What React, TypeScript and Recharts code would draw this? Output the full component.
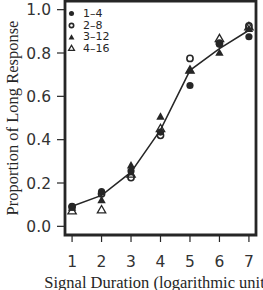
import React from 'react';
import { ComposedChart, Line, Scatter, XAxis, YAxis, Legend, ReferenceArea } from 'recharts';

// Signal duration (log units)
const durations = [1, 2, 3, 4, 5, 6, 7];
const xTicks = [1, 2, 3, 4, 5, 6, 7];
const yTicks = [0, 0.2, 0.4, 0.6, 0.8, 1.0];
const seriesLabels = ['1–4', '2–8', '3–12', '4–16'];

// fitted curve
const fitValues = [0.093, 0.143, 0.25, 0.445, 0.72, 0.82, 0.905];
// observed proportions per range
const range1to4 = [0.092, 0.16, 0.255, 0.435, 0.65, 0.84, 0.875];
const range2to8 = [0.09, 0.15, 0.225, 0.42, 0.775, 0.845, 0.925];
const range3to12 = [0.085, 0.12, 0.28, 0.505, 0.72, 0.8, 0.91];
const range4to16 = [0.07, 0.075, 0.24, 0.45, 0.72, 0.865, 0.92];

const rows = durations.map((x, i) => ({
  x,
  fit: fitValues[i],
  s1: range1to4[i],
  s2: range2to8[i],
  s3: range3to12[i],
  s4: range4to16[i],
}));

const INK = '#262626';
const X_DOMAIN: [number, number] = [0.76, 7.24];
const Y_DOMAIN: [number, number] = [-0.04, 1.04];

type Kind = 'fc' | 'oc' | 'ft' | 'ot';
const kinds: Kind[] = ['fc', 'oc', 'ft', 'ot'];

function marker(kind: Kind, cx: number, cy: number, s: number) {
  if (kind === 'fc') return <circle cx={cx} cy={cy} r={3.6 * s} fill={INK} />;
  if (kind === 'oc') return <circle cx={cx} cy={cy} r={3.1 * s} fill="none" stroke={INK} strokeWidth={1.6} />;
  const pts = `${cx},${cy - 4.6 * s} ${cx - 4.2 * s},${cy + 2.8 * s} ${cx + 4.2 * s},${cy + 2.8 * s}`;
  if (kind === 'ft') return <polygon points={pts} fill={INK} />;
  return <polygon points={pts} fill="none" stroke={INK} strokeWidth={1.3} />;
}

const shapeFor = (kind: Kind) => (props: any) => {
  const { cx, cy } = props;
  if (cx == null || cy == null) return <g />;
  return marker(kind, cx, cy, 1);
};

const LegendBox = () => (
  <div style={{ fontFamily: '"DejaVu Sans", sans-serif', fontSize: 11, color: INK, lineHeight: '11.7px' }}>
    {seriesLabels.map((lab, i) => (
      <div key={lab} style={{ display: 'flex', alignItems: 'center', height: 11.7 }}>
        <svg width={14} height={11} style={{ display: 'block' }}>
          {marker(kinds[i], 5.5, 5.5, 0.7)}
        </svg>
        <span style={{ marginLeft: 3 }}>{lab}</span>
      </div>
    ))}
  </div>
);

const YLabel = (props: any) => {
  const vb = props.viewBox || {};
  const cx = 12;
  const cy = (vb.y || 0) + (vb.height || 0) / 2;
  return (
    <text
      x={cx}
      y={cy}
      transform={`rotate(-90, ${cx}, ${cy})`}
      textAnchor="middle"
      dominantBaseline="central"
      fontFamily='"Liberation Serif", "Times New Roman", serif'
      fontSize={16.5}
      fill={INK}
    >
      Proportion of Long Response
    </text>
  );
};

const XLabel = (props: any) => {
  const vb = props.viewBox || {};
  const cx = (vb.x || 0) + (vb.width || 0) / 2;
  const y = (vb.y || 0) + 53;
  return (
    <text
      x={cx}
      y={y}
      textAnchor="middle"
      fontFamily='"Liberation Serif", "Times New Roman", serif'
      fontSize={16.5}
      fill={INK}
    >
      Signal Duration (logarithmic units)
    </text>
  );
};

const tickStyle = { fontFamily: '"DejaVu Sans", sans-serif', fontSize: 15.5, fill: '#333' };

export default function App() {
  return (
    <div style={{ position: 'absolute', left: 0, top: 0, background: '#fff' }}>
      <ComposedChart
        width={263}
        height={290}
        data={rows}
        margin={{ top: 1, right: 7, bottom: 0, left: 0 }}
      >
        <XAxis
          dataKey="x"
          type="number"
          domain={X_DOMAIN}
          ticks={xTicks}
          allowDataOverflow
          stroke={INK}
          axisLine={false}
          tickLine={{ stroke: INK, strokeWidth: 1.2 }}
          tickSize={7}
          tickMargin={14}
          tick={tickStyle}
          height={55}
          label={<XLabel />}
        />
        <YAxis
          type="number"
          domain={Y_DOMAIN}
          ticks={yTicks}
          allowDataOverflow
          stroke={INK}
          axisLine={false}
          tickLine={{ stroke: INK, strokeWidth: 1.2 }}
          tickSize={8}
          tickMargin={6}
          tick={tickStyle}
          tickFormatter={(v: number) => v.toFixed(1)}
          width={65}
          label={<YLabel />}
        />
        <ReferenceArea
          x1={X_DOMAIN[0]}
          x2={X_DOMAIN[1]}
          y1={Y_DOMAIN[0]}
          y2={Y_DOMAIN[1]}
          fill="#ffffff"
          fillOpacity={0}
          stroke={INK}
          strokeWidth={2.8}
          strokeOpacity={1}
          ifOverflow="extendDomain"
        />
        <Legend
          verticalAlign="middle"
          align="center"
          layout="vertical"
          content={<LegendBox />}
          wrapperStyle={{ position: 'absolute', left: 66, top: 8, width: 60, height: 50 }}
        />
        <Line
          dataKey="fit"
          type="linear"
          stroke={INK}
          strokeWidth={1.5}
          dot={false}
          isAnimationActive={false}
          legendType="none"
        />
        <Scatter dataKey="s1" shape={shapeFor('fc')} isAnimationActive={false} />
        <Scatter dataKey="s2" shape={shapeFor('oc')} isAnimationActive={false} />
        <Scatter dataKey="s3" shape={shapeFor('ft')} isAnimationActive={false} />
        <Scatter dataKey="s4" shape={shapeFor('ot')} isAnimationActive={false} />
      </ComposedChart>
    </div>
  );
}
